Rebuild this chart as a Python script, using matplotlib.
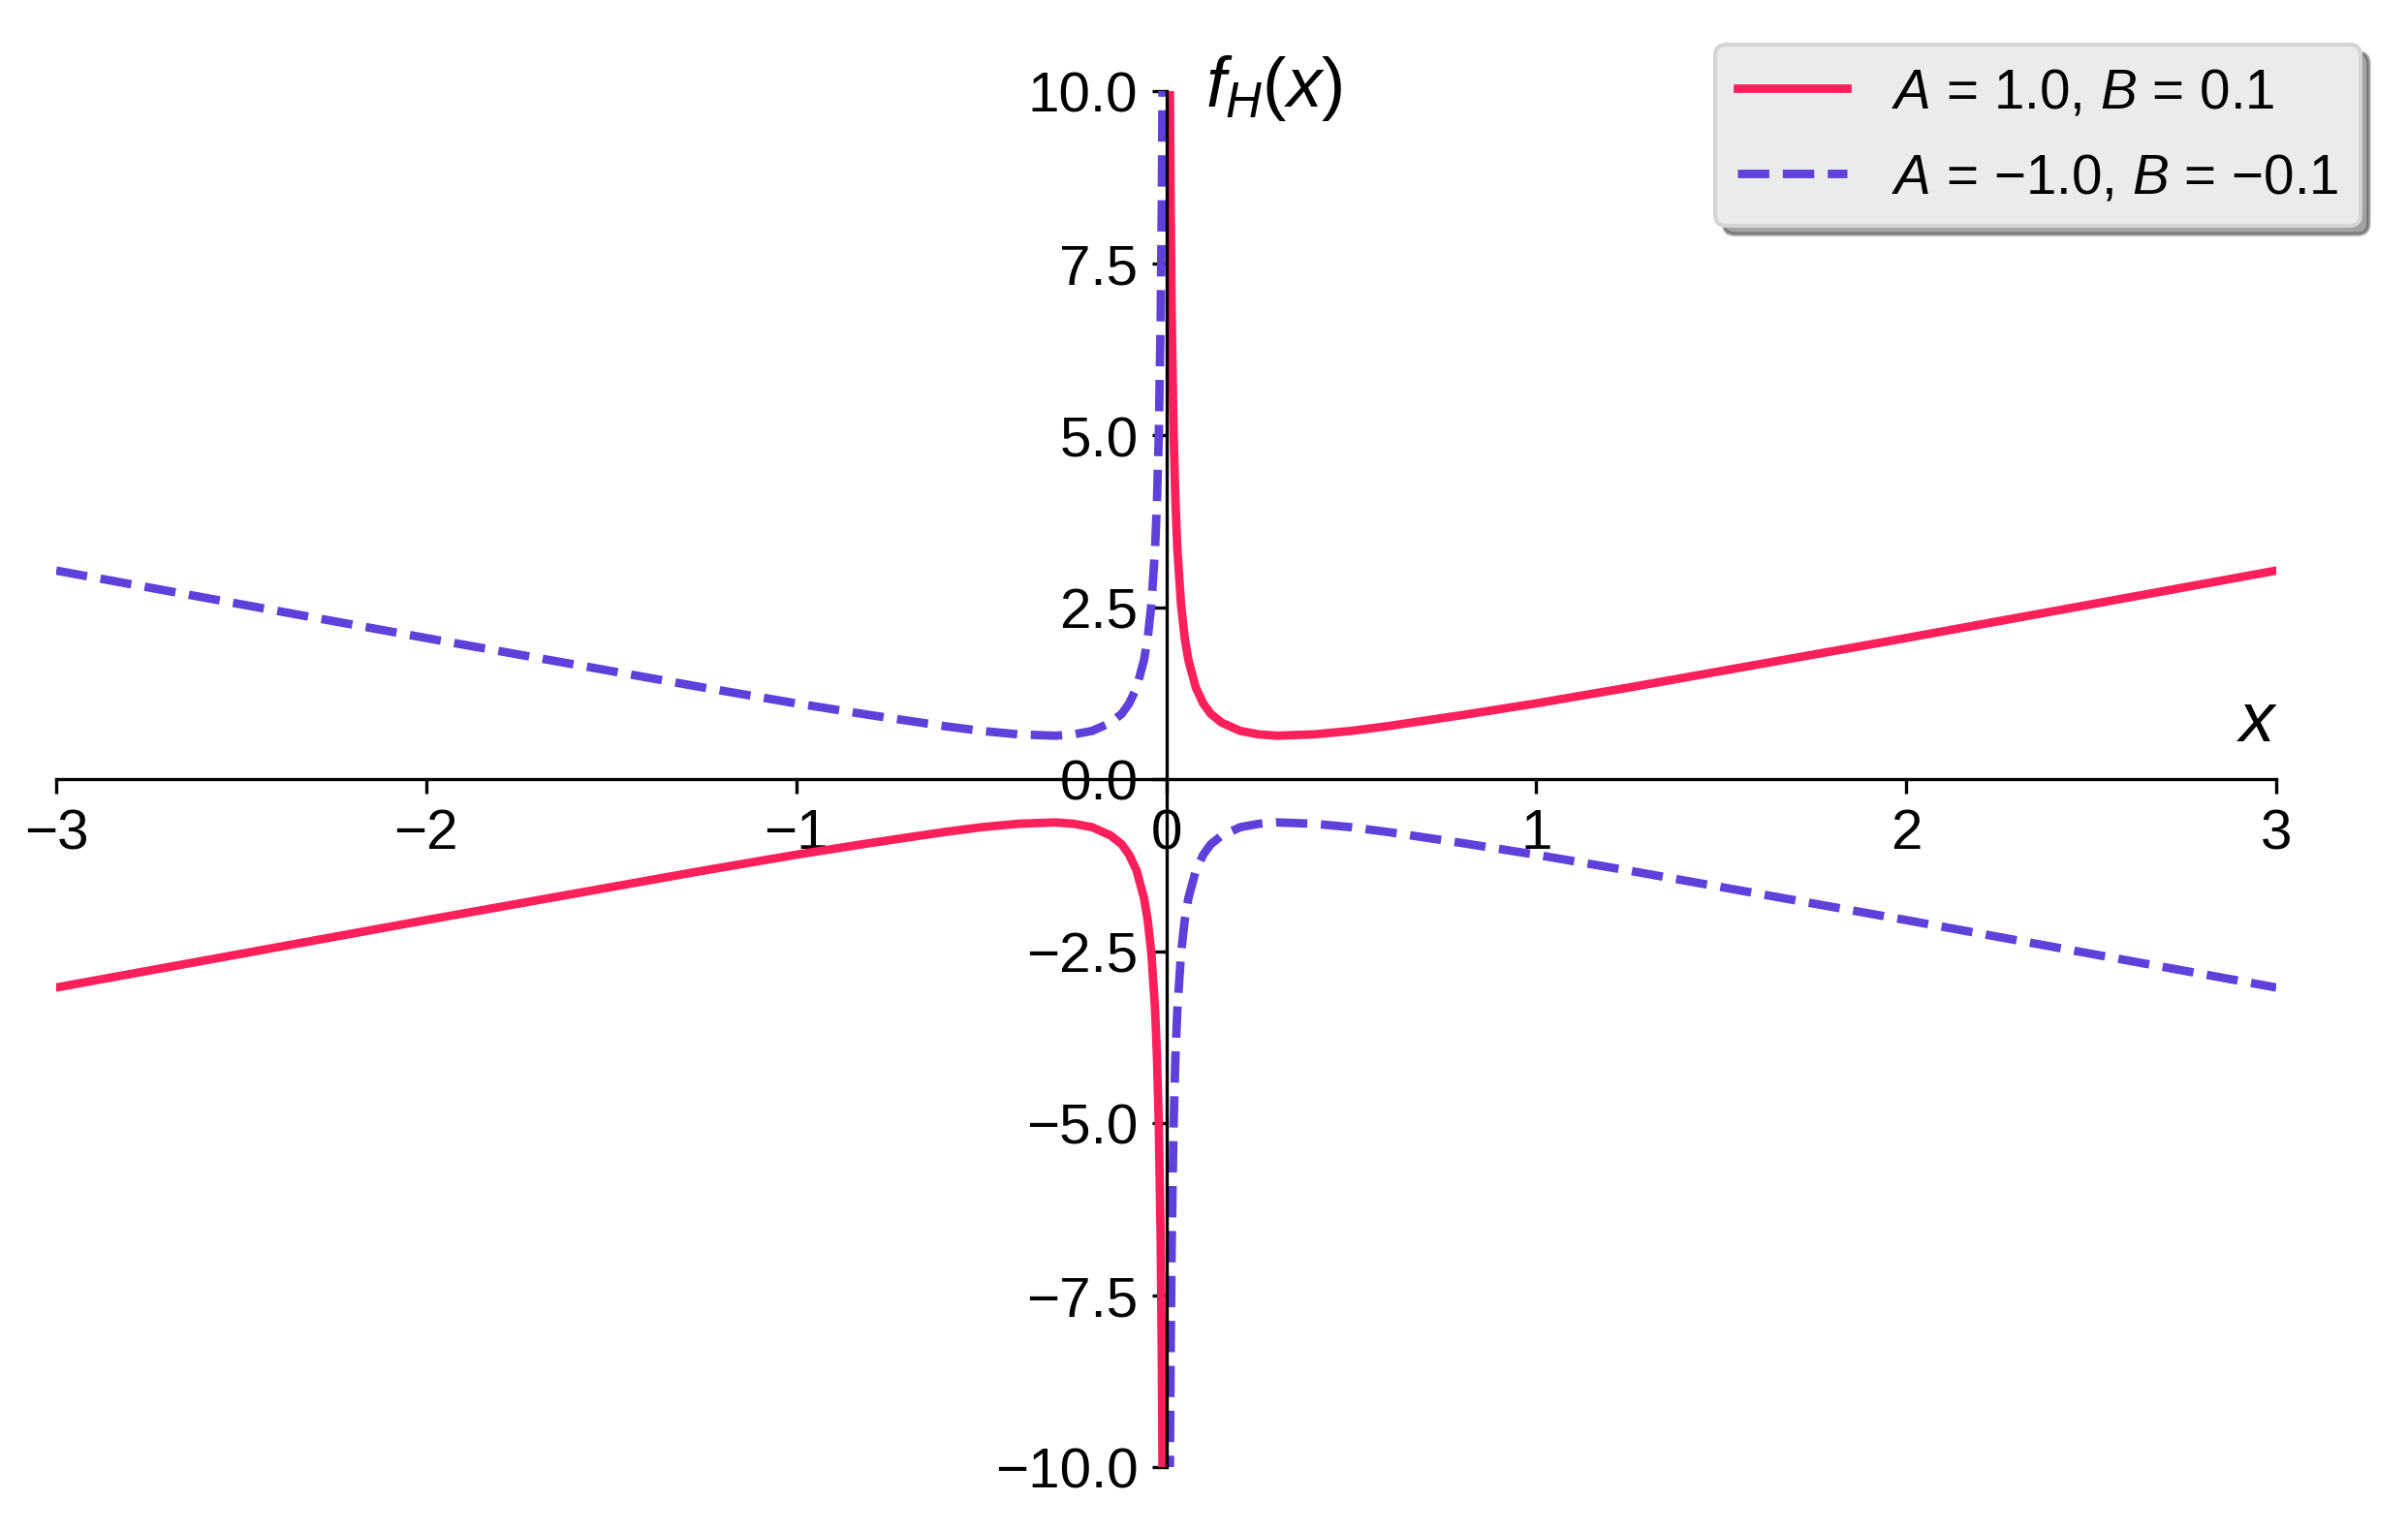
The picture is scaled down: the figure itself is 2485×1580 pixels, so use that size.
import numpy as np
import matplotlib
matplotlib.use("Agg")
import matplotlib.pyplot as plt

plt.rcParams['font.family'] = ['Liberation Sans', 'DejaVu Sans']
plt.rcParams['mathtext.fontset'] = 'custom'
plt.rcParams['mathtext.it'] = 'Liberation Sans:italic'
plt.rcParams['mathtext.rm'] = 'Liberation Sans'
plt.rcParams['mathtext.sf'] = 'Liberation Sans'

# x samples (positive half)
x_pos = [0.008, 0.01, 0.012, 0.015, 0.02, 0.025, 0.03, 0.04, 0.05, 0.06, 0.08,
         0.10, 0.12, 0.15, 0.20, 0.25, 0.30, 0.35, 0.40, 0.50, 0.60, 0.80,
         1.00, 1.25, 1.50, 2.00, 2.50, 3.00]
# solid curve (A = 1.0, B = 0.1) values read at x_pos; the curve is odd-symmetric
red_pos = [12.5, 10.01, 8.35, 6.68, 5.02, 4.03, 3.36, 2.54, 2.05, 1.73, 1.33,
           1.10, 0.95, 0.82, 0.70, 0.65, 0.63, 0.64, 0.65, 0.70, 0.77, 0.93,
           1.10, 1.33, 1.57, 2.05, 2.54, 3.03]
# dashed curve (A = -1.0, B = -0.1) is the mirror of the solid one
blue_pos = [-v for v in red_pos]

labels = [r'$A$ = 1.0, $B$ = 0.1', r'$A$ = −1.0, $B$ = −0.1']
colors = ['#FF1F5B', '#6040DA']

xp = np.array(x_pos)
x_all = np.concatenate([-xp[::-1], [np.nan], xp])
red_all = np.concatenate([-np.array(red_pos)[::-1], [np.nan], np.array(red_pos)])
blue_all = np.concatenate([-np.array(blue_pos)[::-1], [np.nan], np.array(blue_pos)])

fig = plt.figure(figsize=(2485/300, 1581/300), dpi=300)
ax = fig.add_axes([58/2485, 1-1515/1581, (2349-58)/2485, (1515-95)/1581])

ax.plot(x_all, red_all, color=colors[0], lw=2.1, ls='-', label=labels[0])
ax.plot(x_all, blue_all, color=colors[1], lw=2.1, ls='--', label=labels[1])

ax.set_xlim(-3, 3)
ax.set_ylim(-10, 10)
ax.set_xticks([-3, -2, -1, 0, 1, 2, 3])
ax.set_yticks([-10, -7.5, -5, -2.5, 0, 2.5, 5, 7.5, 10])
ax.set_yticklabels(['−10.0', '−7.5', '−5.0', '−2.5', '0.0', '2.5', '5.0', '7.5', '10.0'])
ax.set_xticklabels(['−3', '−2', '−1', '0', '1', '2', '3'])
ax.tick_params(labelsize=14)

ax.spines['left'].set_position('zero')
ax.spines['bottom'].set_position('zero')
ax.spines['right'].set_visible(False)
ax.spines['top'].set_visible(False)

ax.text(0.105, 10.05, r'$f_H(x)$', fontsize=17.5, ha='left', va='center')
ax.text(2.95, 0.83, r'$x$', fontsize=17.5, ha='center', va='center')

leg = ax.legend(loc='upper right', bbox_to_anchor=(2436/2485, 1-47/1581),
                bbox_transform=fig.transFigure, borderaxespad=0,
                fontsize=13.6, shadow=True, labelspacing=0.6,
                fancybox=True, framealpha=1, facecolor='#ebebeb',
                edgecolor='#d4d4d4', handlelength=2.0)

fig.savefig('out.png', dpi=300)
